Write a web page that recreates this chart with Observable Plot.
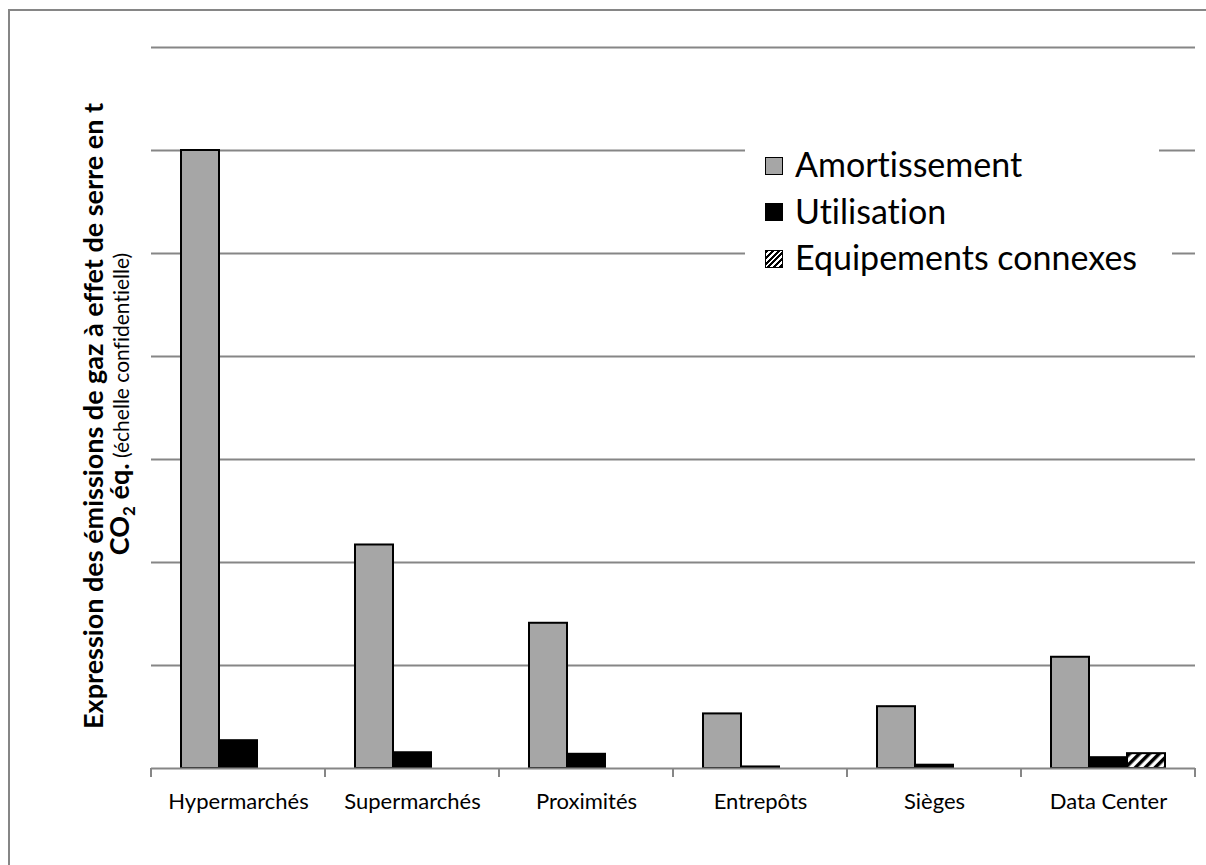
<!DOCTYPE html>
<html><head><meta charset="utf-8">
<script src="https://cdn.jsdelivr.net/npm/d3@7"></script>
<script src="https://cdn.jsdelivr.net/npm/@observablehq/plot@0.6"></script>
<style>
html,body{margin:0;padding:0;overflow:hidden;background:#fff}
body{font-family:Lato,sans-serif;font-variant-ligatures:none}
#wrap{position:relative;width:1206px;height:865px;overflow:hidden;background:#fff}
#chart{position:absolute;left:0;top:0;line-height:0}
#frame2{position:absolute;left:8px;top:9px;width:1198px;height:856px;border-left:2px solid #868686;border-top:2px solid #868686;box-sizing:border-box}
#legend{position:absolute;left:745px;top:138px;width:414px;height:136px;background:#fff}
#legend2{position:absolute;left:1150px;top:240px;width:22px;height:30px;background:#fff}
#mask{position:absolute;left:1198px;top:12px;width:8px;height:34px;background:#fff;z-index:10}
.row{position:absolute;left:20px;height:40px;display:flex;align-items:center;font-size:34px;line-height:40px;color:#000;white-space:nowrap;font-variant-ligatures:none}
.sw{width:18px;height:18px;border:1.5px solid #000;box-sizing:border-box;margin-right:12px;margin-top:3px}
svg text{font-variant-ligatures:none}
</style></head>
<body>
<div id="wrap">
<div id="frame2"></div>
<div id="chart"></div>
<div id="legend2"></div>
<div id="legend"></div>
<div id="mask"></div>
</div>
<script>
const categories = ["Hypermarchés","Supermarchés","Proximités","Entrepôts","Sièges","Data Center"];
const series = ["Amortissement","Utilisation","Equipements connexes"];
const amortissement = [6.0, 2.17, 1.41, 0.53, 0.60, 1.08];
const utilisation = [0.27, 0.153, 0.138, 0.015, 0.032, 0.105];
const equipements = [0, 0, 0, 0, 0, 0.144];
const gridValues = [1,2,3,4,5,6,7];
const seriesColors = ["#a6a6a6", "#000000", "url(#hatch)"];

const table = [];
categories.forEach((c,i)=>{
  [amortissement, utilisation, equipements].forEach((arr,j)=>{
    if (arr[i] > 0) table.push({cat:c, series:series[j], value:arr[i]});
  });
});

const plot = Plot.plot({
  width:1206, height:865,
  marginLeft:150, marginRight:11, marginTop:47, marginBottom:97,
  style:{fontFamily:"Lato, sans-serif", background:"transparent"},
  fx:{domain:categories, padding:0, label:null},
  x:{domain:series, paddingInner:0, paddingOuter:0.75, axis:null},
  y:{domain:[0,7], axis:null},
  color:{type:"ordinal", domain:series, range:seriesColors},
  marks:[
    Plot.ruleY(gridValues, {stroke:"#868686", strokeWidth:2}),
    Plot.barY(table, {fx:"cat", x:"series", y:"value", fill:"series", stroke:"#000", strokeWidth:2}),
    Plot.ruleY([0], {stroke:"#868686", strokeWidth:2}),
    Plot.axisFx({anchor:"bottom", tickSize:0, tickPadding:25, fontSize:22, fill:"#000", label:null})
  ]
});

const svg = d3.select(plot);
svg.insert("defs", ":first-child").html(
  '<pattern id="hatch" patternUnits="userSpaceOnUse" width="7" height="7" patternTransform="rotate(45)">' +
  '<rect width="7" height="7" fill="#fff"/><rect width="3.5" height="7" fill="#000"/></pattern>');

// category boundary ticks from the fx scale
const fx = plot.scale("fx");
const bounds = categories.map(c => fx.apply(c));
bounds.push(fx.apply(categories[categories.length-1]) + fx.bandwidth);
svg.append("g").selectAll("line").data(bounds).join("line")
  .attr("x1", d=>d).attr("x2", d=>d).attr("y1", 768).attr("y2", 777)
  .attr("stroke", "#868686").attr("stroke-width", 2);

// y-axis title
const yt1 = svg.append("g").attr("transform", "translate(0,416) rotate(-90)")
  .attr("text-anchor", "middle").attr("fill", "#000").style("font-family", "Lato, sans-serif");
yt1.append("text").attr("x", 0).attr("y", 103).style("font-size", "27px").attr("font-weight", "bold")
  .text("Expression des émissions de gaz à effet de serre en t");
const yt2 = svg.append("g").attr("transform", "translate(0,404) rotate(-90)")
  .attr("text-anchor", "middle").attr("fill", "#000").style("font-family", "Lato, sans-serif");
const t2 = yt2.append("text").attr("x", 0).attr("y", 129).style("font-size", "27px");
t2.append("tspan").attr("font-weight", "bold").text("CO");
t2.append("tspan").attr("font-weight", "bold").style("font-size", "17px").attr("dy", 6).text("2");
t2.append("tspan").attr("font-weight", "bold").attr("dy", -6).text(" éq.");
t2.append("tspan").style("font-size", "21px").text(" (échelle confidentielle)");

document.getElementById("chart").appendChild(plot);

// legend
const legend = document.getElementById("legend");
series.forEach((s,i)=>{
  const row = document.createElement("div");
  row.className = "row";
  row.style.top = (6 + i*46.5) + "px";
  const sw = document.createElement("div");
  sw.className = "sw";
  if (i === 2) {
    sw.style.background = "repeating-linear-gradient(135deg,#000 0 2px,#fff 2px 4px)";
  } else {
    sw.style.background = seriesColors[i];
  }
  row.appendChild(sw);
  const t = document.createElement("span");
  t.textContent = s;
  row.appendChild(t);
  legend.appendChild(row);
});
</script>
</body></html>
